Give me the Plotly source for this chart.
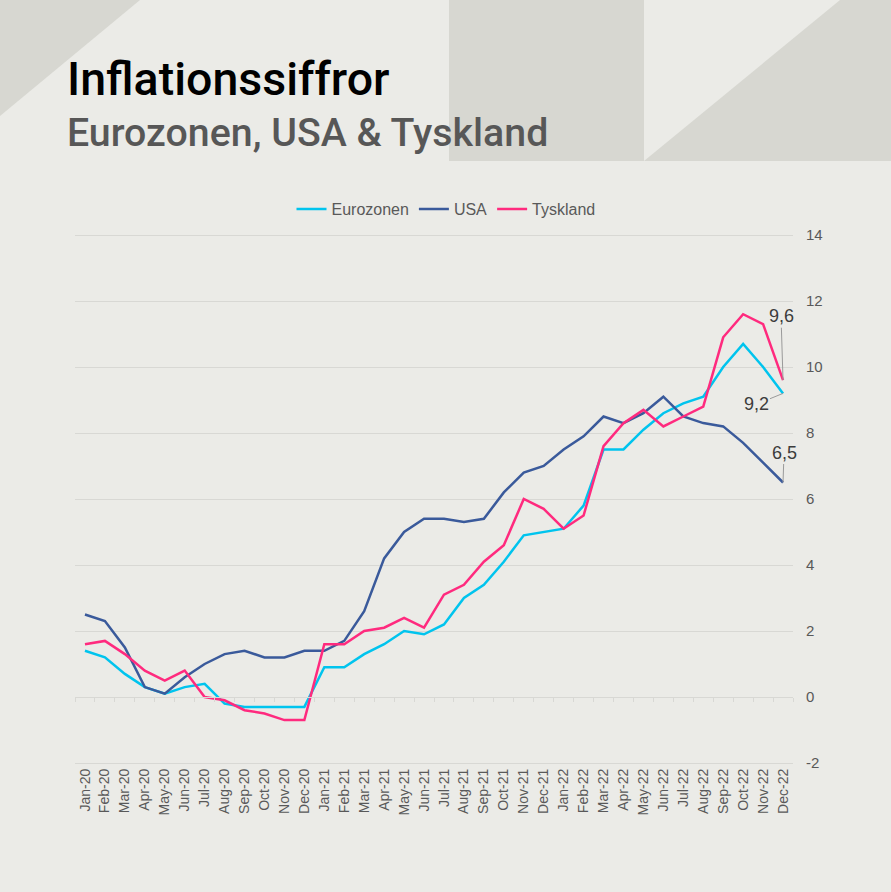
import plotly.graph_objects as go

months = ["Jan-20","Feb-20","Mar-20","Apr-20","May-20","Jun-20","Jul-20","Aug-20","Sep-20","Oct-20","Nov-20","Dec-20",
          "Jan-21","Feb-21","Mar-21","Apr-21","May-21","Jun-21","Jul-21","Aug-21","Sep-21","Oct-21","Nov-21","Dec-21",
          "Jan-22","Feb-22","Mar-22","Apr-22","May-22","Jun-22","Jul-22","Aug-22","Sep-22","Oct-22","Nov-22","Dec-22"]

eurozonen = [1.4, 1.2, 0.7, 0.3, 0.1, 0.3, 0.4, -0.2, -0.3, -0.3, -0.3, -0.3,
             0.9, 0.9, 1.3, 1.6, 2.0, 1.9, 2.2, 3.0, 3.4, 4.1, 4.9, 5.0,
             5.1, 5.8, 7.5, 7.5, 8.1, 8.6, 8.9, 9.1, 10.0, 10.7, 10.0, 9.2]
usa = [2.5, 2.3, 1.5, 0.3, 0.1, 0.6, 1.0, 1.3, 1.4, 1.2, 1.2, 1.4,
       1.4, 1.7, 2.6, 4.2, 5.0, 5.4, 5.4, 5.3, 5.4, 6.2, 6.8, 7.0,
       7.5, 7.9, 8.5, 8.3, 8.6, 9.1, 8.5, 8.3, 8.2, 7.7, 7.1, 6.5]
tyskland = [1.6, 1.7, 1.3, 0.8, 0.5, 0.8, 0.0, -0.1, -0.4, -0.5, -0.7, -0.7,
            1.6, 1.6, 2.0, 2.1, 2.4, 2.1, 3.1, 3.4, 4.1, 4.6, 6.0, 5.7,
            5.1, 5.5, 7.6, 8.3, 8.7, 8.2, 8.5, 8.8, 10.9, 11.6, 11.3, 9.6]

series_names = ["Eurozonen", "USA", "Tyskland"]
series_colors = ["#00C4EE", "#3A5A9B", "#FF2A7E"]
y_ticks = [-2, 0, 2, 4, 6, 8, 10, 12, 14]

title_text = "Inflationssiffror"
subtitle_text = "Eurozonen, USA & Tyskland"

W, H = 891, 892
ML, MR, MT, MB = 75, 98, 233, 127
PW, PH = W - ML - MR, H - MT - MB

def px(x):
    return (x - ML) / PW

def py(y):
    return (H - MB - y) / PH

BG = "#EBEBE7"
DARK = "#D7D7D1"
GRID = "#D8D8D4"
TXT = "#595959"

fig = go.Figure()
for name, vals, col in zip(series_names, [eurozonen, usa, tyskland], series_colors):
    fig.add_trace(go.Scatter(x=months, y=vals, name=name, mode="lines",
                             line=dict(color=col, width=2.5)))

# dummy trace for the zero axis line with boundary ticks
fig.add_trace(go.Scatter(x=months, y=[None] * len(months), xaxis="x2", showlegend=False,
                         hoverinfo="skip", mode="lines"))

def poly(pts):
    return "M " + " L ".join(f"{px(a)},{py(b)}" for a, b in pts) + " Z"

shapes = [
    dict(type="path", path=poly([(0, 0), (140, 0), (0, 116)])),
    dict(type="path", path=poly([(449, 0), (644, 0), (644, 161), (449, 161)])),
    dict(type="path", path=poly([(644, 161), (840, 0), (891, 0), (891, 161)])),
]
for s in shapes:
    s.update(xref="paper", yref="paper", fillcolor=DARK, line=dict(width=0), layer="below")

annotations = [
    dict(text=title_text, x=px(65), y=py(50), xref="paper", yref="paper", xanchor="left", yanchor="top",
         showarrow=False, font=dict(family="Roboto", size=46.5, color="#000000", weight=500)),
    dict(text=subtitle_text, x=px(65), y=py(108), xref="paper", yref="paper", xanchor="left", yanchor="top",
         showarrow=False, font=dict(family="Roboto", size=39.3, color="#575757", weight=500)),
]
lab_font = dict(family="Liberation Sans", size=18, color="#3C3C3C")
last = months[-1]
annotations += [
    dict(x=last, y=tyskland[-1], text="9,6", showarrow=True, arrowhead=0, arrowwidth=1, arrowcolor="#9A9A9A",
         ax=-2, ay=-64, font=lab_font, standoff=0),
    dict(x=last, y=eurozonen[-1], text="9,2", showarrow=True, arrowhead=0, arrowwidth=1, arrowcolor="#9A9A9A",
         ax=-27, ay=11, font=lab_font, standoff=0),
    dict(x=last, y=usa[-1], text="6,5", showarrow=True, arrowhead=0, arrowwidth=1, arrowcolor="#9A9A9A",
         ax=1, ay=-30, font=lab_font, standoff=0),
]

# small padding so that the grid lines at 14 and -2 are drawn
eps = 2 * (y_ticks[-1] - y_ticks[0]) / (PH - 4)
fig.update_layout(
    width=W, height=H,
    margin=dict(l=ML, r=MR, t=MT, b=MB, pad=0),
    paper_bgcolor=BG, plot_bgcolor=BG,
    shapes=shapes, annotations=annotations,
    showlegend=True,
    legend=dict(orientation="h", x=px(446), xanchor="center", y=py(209), yanchor="middle",
                font=dict(family="Liberation Sans", size=16, color=TXT), bgcolor="rgba(0,0,0,0)",
                itemwidth=30, tracegroupgap=0),
    xaxis=dict(type="category", range=[-0.5, len(months) - 0.5], showgrid=False, showline=False,
               ticks="", tickangle=-90, tickfont=dict(family="Liberation Sans", size=14, color=TXT),
               ticklabelstandoff=0, zeroline=False),
    xaxis2=dict(type="category", overlaying="x", anchor="free",
                position=(0 - y_ticks[0] + eps) / (y_ticks[-1] - y_ticks[0] + 2 * eps),
                range=[-0.5, len(months) - 0.5], showgrid=False, showline=True, linecolor=GRID, linewidth=1,
                ticks="outside", ticklen=4, tickcolor=GRID, tickwidth=1, tickson="boundaries",
                showticklabels=False, side="bottom"),
    yaxis=dict(side="right", range=[y_ticks[0] - eps, y_ticks[-1] + eps], tickvals=y_ticks,
               ticktext=[str(v) for v in y_ticks],
               showgrid=True, gridcolor=GRID, gridwidth=1, zeroline=False, showline=False, ticks="",
               ticklabelstandoff=12, tickfont=dict(family="Liberation Sans", size=15, color=TXT)),
    hovermode=False,
)

fig.write_html("out.html")
